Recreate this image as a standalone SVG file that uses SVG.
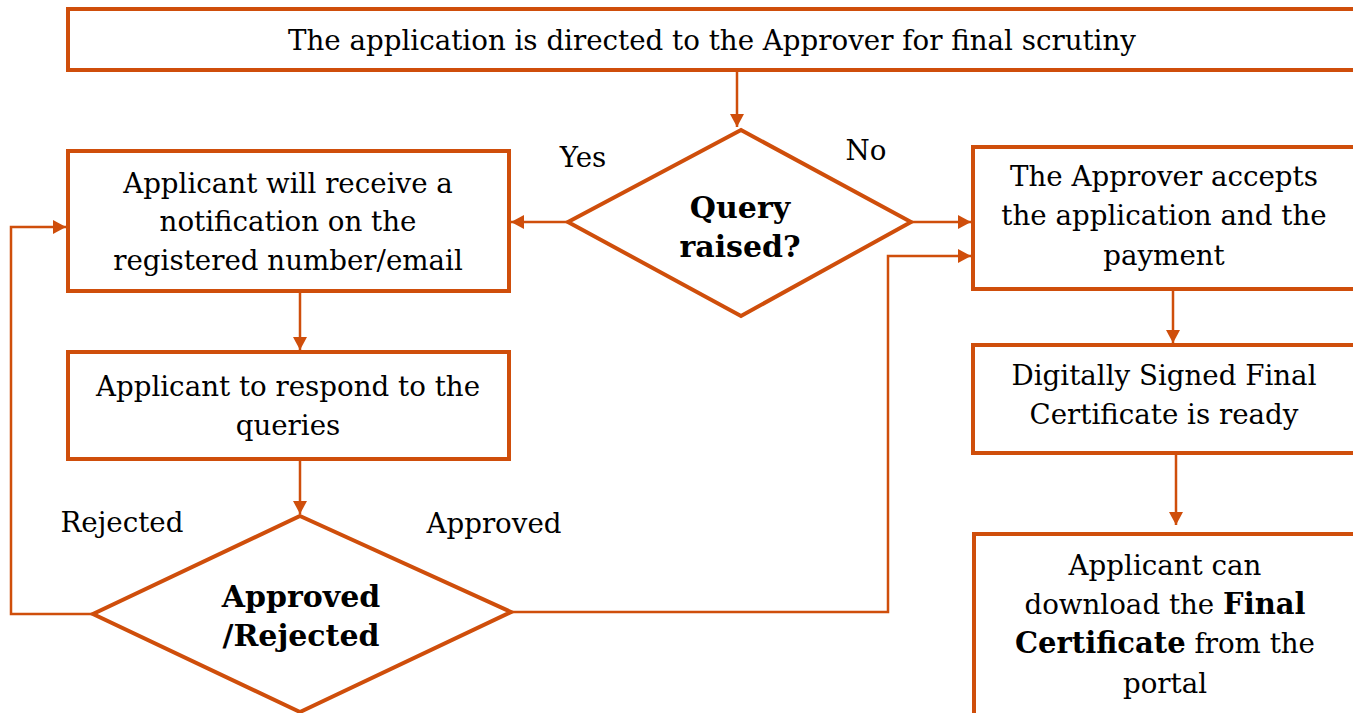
<svg xmlns="http://www.w3.org/2000/svg" width="1353" height="713" viewBox="0 0 1353 713">
<style>
.box{fill:#fff;stroke:#CF4E0B;stroke-width:4}
.con{fill:none;stroke:#CF4E0B;stroke-width:2.5}
text{font-family:"DejaVu Serif","Liberation Serif",serif;font-size:27.7px;fill:#000;text-anchor:middle}
.b{font-weight:bold}
.d{font-size:30px}
.t{font-size:29px}
</style>
<defs>
<marker id="ah" markerUnits="userSpaceOnUse" markerWidth="13" markerHeight="14" refX="13" refY="7" orient="auto">
<path d="M0,0 L13,7 L0,14 z" fill="#CF4E0B"/>
</marker>
</defs>
<g id="connectors">
<path class="con" d="M737,70 V127" marker-end="url(#ah)"/>
<path class="con" d="M568,222 H511" marker-end="url(#ah)"/>
<path class="con" d="M911,222 H971" marker-end="url(#ah)"/>
<path class="con" d="M300,291 V350" marker-end="url(#ah)"/>
<path class="con" d="M300,459 V514" marker-end="url(#ah)"/>
<path class="con" d="M93,614 H11 V227 H66" marker-end="url(#ah)"/>
<path class="con" d="M511,612 H888 V256 H971" marker-end="url(#ah)"/>
<path class="con" d="M1173,289 V343" marker-end="url(#ah)"/>
<path class="con" d="M1176,453 V525" marker-end="url(#ah)"/>
</g>
<g id="n-top">
<rect class="box" x="68" y="9" width="1292" height="61"/>
<text x="712" y="50">The application is directed to the Approver for final scrutiny</text>
</g>
<g id="n-query">
<polygon class="box" points="741,130 911,222 741,316 568,222"/>
<text class="b d" x="740" y="218">Query</text>
<text class="b d" x="740" y="257">raised?</text>
</g>
<g id="l-yes"><text x="583" y="167">Yes</text></g>
<g id="l-no"><text x="866" y="160">No</text></g>
<g id="n-notify">
<rect class="box" x="68" y="151" width="441" height="140"/>
<text x="288" y="193">Applicant will receive a</text>
<text x="288" y="231">notification on the</text>
<text x="288" y="270">registered number/email</text>
</g>
<g id="n-accept">
<rect class="box" x="973" y="147" width="390" height="142"/>
<text x="1164" y="186">The Approver accepts</text>
<text x="1164" y="225">the application and the</text>
<text x="1164" y="265">payment</text>
</g>
<g id="n-respond">
<rect class="box" x="68" y="352" width="441" height="107"/>
<text x="288" y="396">Applicant to respond to the</text>
<text x="288" y="435">queries</text>
</g>
<g id="n-digital">
<rect class="box" x="973" y="345" width="390" height="108"/>
<text x="1164" y="385">Digitally Signed Final</text>
<text x="1164" y="424">Certificate is ready</text>
</g>
<g id="l-rejected"><text x="122" y="532">Rejected</text></g>
<g id="l-approved"><text x="494" y="533">Approved</text></g>
<g id="n-decision">
<polygon class="box" points="300,516 511,612 300,712 93,614"/>
<text class="b d" x="301" y="607">Approved</text>
<text class="b d" x="301" y="646">/Rejected</text>
</g>
<g id="n-download">
<rect class="box" x="974" y="534" width="390" height="200"/>
<text x="1165" y="575">Applicant can</text>
<text x="1165" y="614">download the <tspan class="b t">Final</tspan></text>
<text x="1165" y="653"><tspan class="b t">Certificate</tspan> from the</text>
<text x="1165" y="693">portal</text>
</g>
</svg>
